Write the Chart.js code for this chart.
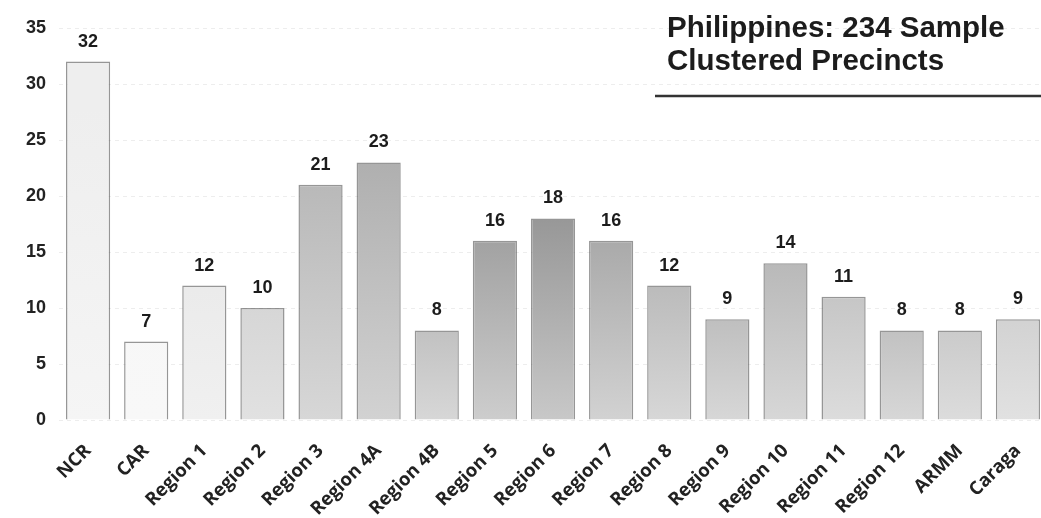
<!DOCTYPE html>
<html>
<head>
<meta charset="utf-8">
<script src="https://cdn.jsdelivr.net/npm/chart.js@4/dist/chart.umd.min.js"></script>
<style>
    html, body { margin: 0; padding: 0; background: #fff; overflow: hidden; }
    #wrap { width: 1047px; height: 518px; position: relative; }
</style>
</head>
<body>
<div id="wrap"><canvas id="myChart"></canvas></div>
<script>
var regions = ['NCR', 'CAR', 'Region 1', 'Region 2', 'Region 3', 'Region 4A', 'Region 4B',
    'Region 5', 'Region 6', 'Region 7', 'Region 8', 'Region 9', 'Region 10', 'Region 11',
    'Region 12', 'ARMM', 'Caraga'];
var precincts = [32, 7, 12, 10, 21, 23, 8, 16, 18, 16, 12, 9, 14, 11, 8, 8, 9];
var yTicks = [0, 5, 10, 15, 20, 25, 30, 35];
var titleLines = ['Philippines: 234 Sample', 'Clustered Precincts'];

// scanned look: each bar darker on top, fading towards the bottom
var topGray = [238, 246, 228, 195, 175, 168, 140, 130, 125, 140, 150, 140, 155, 165, 140, 160, 180];
var bottomGray = [245, 248, 240, 225, 215, 210, 215, 205, 200, 210, 215, 215, 215, 220, 215, 220, 225];

function barFill(context) {
    var chart = context.chart;
    var area = chart.chartArea;
    if (!area) return 'rgb(200,200,200)';
    var i = context.dataIndex;
    var g = chart.ctx.createLinearGradient(0, area.top + 80, 0, area.bottom);
    var t = topGray[i], b = bottomGray[i];
    g.addColorStop(0, 'rgb(' + t + ',' + t + ',' + t + ')');
    g.addColorStop(1, 'rgb(' + b + ',' + b + ',' + b + ')');
    return g;
}

var overlay = {
    id: 'overlay',
    afterDatasetsDraw: function (chart) {
        var ctx = chart.ctx;
        var meta = chart.getDatasetMeta(0);
        ctx.save();
        ctx.fillStyle = '#1c1c1c';
        ctx.font = 'bold 18px "Liberation Sans", Arial, sans-serif';
        ctx.textAlign = 'center';
        ctx.textBaseline = 'bottom';
        meta.data.forEach(function (bar, i) {
            ctx.fillText(precincts[i], bar.x, bar.y - 11);
        });
        // title box
        ctx.textAlign = 'left';
        ctx.textBaseline = 'alphabetic';
        ctx.font = 'bold 29.5px "Liberation Sans", Arial, sans-serif';
        ctx.fillText(titleLines[0], 667, 37);
        ctx.fillText(titleLines[1], 667, 70);
        ctx.strokeStyle = '#333';
        ctx.lineWidth = 2.5;
        ctx.beginPath();
        ctx.moveTo(655, 96);
        ctx.lineTo(1047, 96);
        ctx.stroke();
        ctx.restore();
    }
};

var config = {
    type: 'bar',
    data: {
        labels: regions,
        datasets: [{
            label: 'Precincts',
            data: precincts,
            backgroundColor: barFill,
            borderColor: 'rgba(80,80,80,0.6)',
            borderWidth: 1.5,
            borderDash: [3, 3],
            categoryPercentage: 0.76,
            barPercentage: 1
        }]
    },
    options: {
        responsive: true,
        maintainAspectRatio: false,
        animation: false,
        layout: { padding: { top: 28, right: 0, left: 13, bottom: 0 } },
        plugins: {
            legend: { display: false },
            title: { display: false },
            tooltip: { enabled: false }
        },
        scales: {
            x: {
                grid: { display: false },
                border: { display: false },
                afterFit: function (scale) {
                    // keep the axis band fixed like the original
                    scale.height = 98;
                    scale.paddingLeft = 0;
                },
                ticks: {
                    color: '#222',
                    font: { family: '"Open Sans", "Liberation Sans", sans-serif', size: 18.5, weight: 'bold' },
                    minRotation: 45,
                    maxRotation: 45,
                    autoSkip: false,
                    padding: 12
                }
            },
            y: {
                min: 0,
                max: 35,
                afterBuildTicks: function (axis) {
                    axis.ticks = yTicks.map(function (v) { return { value: v }; });
                },
                grid: {
                    color: 'rgba(0,0,0,0.07)',
                    drawTicks: false
                },
                border: { display: false, dash: [4, 4] },
                ticks: {
                    color: '#222',
                    font: { family: '"Liberation Sans", Arial, sans-serif', size: 18, weight: 'bold' },
                    padding: 13
                }
            }
        }
    },
    plugins: [overlay]
};

var myChart = new Chart(document.getElementById('myChart'), config);
</script>
</body>
</html>
